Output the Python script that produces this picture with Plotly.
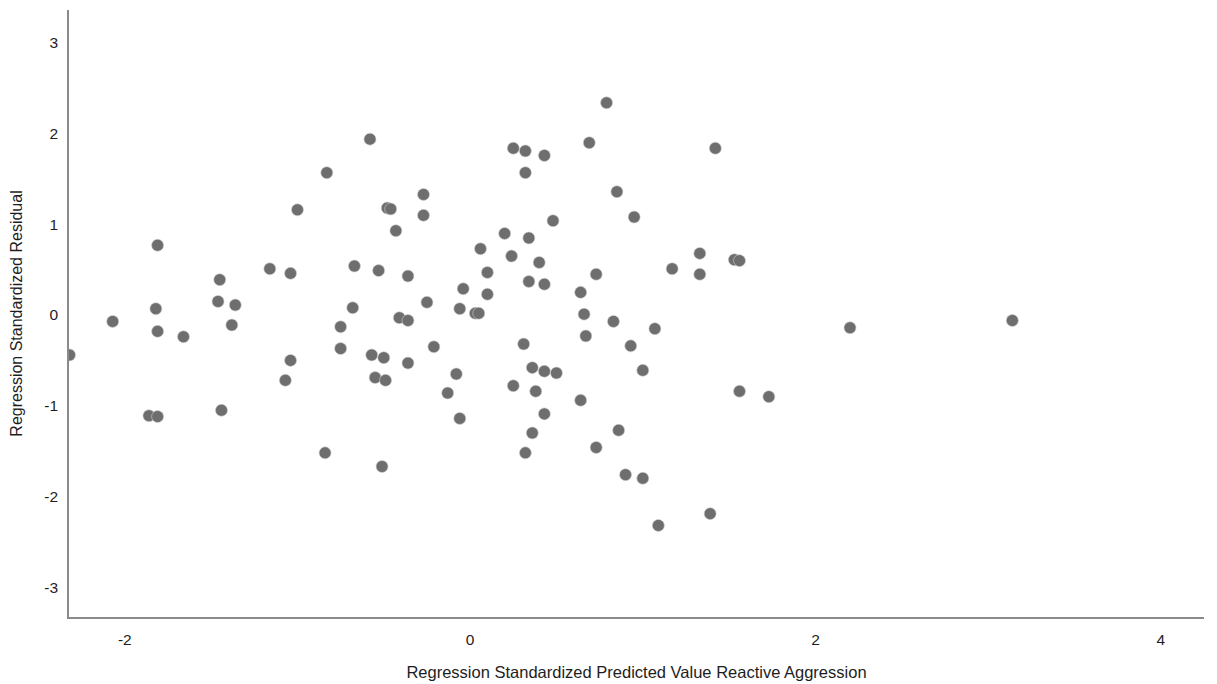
import plotly.graph_objects as go

# Regression standardized predicted value (x) and standardized residual (y)
predicted = [
    -2.32, -2.07, -1.81, -1.82, -1.81, -1.66, -1.86, -1.81, -1.45, -1.46,
    -1.36, -1.38, -1.44, -1.16, -1.04, -1.00, -1.04, -1.07, -0.83, -0.84,
    -0.75, -0.75, -0.68, -0.67, -0.58, -0.57, -0.55, -0.53, -0.50, -0.49,
    -0.51, -0.48, -0.46, -0.43, -0.41, -0.36, -0.36, -0.36, -0.27, -0.27,
    -0.25, -0.21, -0.13, -0.08, -0.06, -0.06, -0.04, 0.03, 0.05, 0.06,
    0.10, 0.10, 0.20, 0.24, 0.25, 0.25, 0.32, 0.31, 0.32, 0.32,
    0.34, 0.34, 0.36, 0.36, 0.38, 0.40, 0.43, 0.43, 0.43, 0.43,
    0.48, 0.50, 0.69, 0.64, 0.64, 0.66, 0.67, 0.73, 0.73, 0.79,
    0.83, 0.85, 0.86, 0.90, 0.93, 0.95, 1.00, 1.00, 1.07, 1.09,
    1.17, 1.33, 1.33, 1.39, 1.42, 1.53, 1.56, 1.56, 1.73, 2.20,
    3.14,
]
residual = [
    -0.44, -0.07, 0.77, 0.07, -0.18, -0.24, -1.11, -1.12, 0.39, 0.15,
    0.11, -0.11, -1.05, 0.51, 0.46, 1.16, -0.50, -0.72, 1.57, -1.52,
    -0.13, -0.37, 0.08, 0.54, 1.94, -0.44, -0.69, 0.49, -0.47, -0.72,
    -1.67, 1.18, 1.17, 0.93, -0.03, -0.06, 0.43, -0.53, 1.33, 1.10,
    0.14, -0.35, -0.86, -0.65, -1.14, 0.07, 0.29, 0.02, 0.02, 0.73,
    0.47, 0.23, 0.90, 0.65, 1.84, -0.78, 1.81, -0.32, 1.57, -1.52,
    0.85, 0.37, -0.58, -1.30, -0.84, 0.58, 1.76, 0.34, -0.62, -1.09,
    1.04, -0.64, 1.90, 0.25, -0.94, 0.01, -0.23, 0.45, -1.46, 2.34,
    -0.07, 1.36, -1.27, -1.76, -0.34, 1.08, -0.61, -1.80, -0.15, -2.32,
    0.51, 0.45, 0.68, -2.19, 1.84, 0.61, 0.60, -0.84, -0.90, -0.14,
    -0.06,
]

x_ticks = [-2, 0, 2, 4]
y_ticks = [-3, -2, -1, 0, 1, 2, 3]

FONT = "Liberation Sans, Arial, sans-serif"
TEXT = "#1e1e1e"

fig = go.Figure(
    go.Scatter(
        x=predicted,
        y=residual,
        mode="markers",
        marker=dict(size=12, color="#6e6e6e", line=dict(width=0.6, color="#cfcfcf")),
        hoverinfo="x+y",
    )
)

# page body has an 8px default margin, so the figure is 8px smaller
fig.update_layout(
    width=1209,
    height=676,
    margin=dict(l=61, r=13, t=2, b=67),
    paper_bgcolor="white",
    plot_bgcolor="white",
    showlegend=False,
    font=dict(family=FONT, size=15, color=TEXT),
)

fig.update_xaxes(
    range=[-2.323, 4.25],
    tickvals=x_ticks,
    ticktext=[str(v) for v in x_ticks],
    showgrid=False,
    zeroline=False,
    showline=True,
    linecolor="#8a8a8a",
    linewidth=1.5,
    ticks="outside",
    ticklen=8,
    tickcolor="rgba(0,0,0,0)",
    tickfont=dict(size=15.5, color=TEXT),
    title=dict(
        text="Regression Standardized Predicted Value Reactive Aggression",
        font=dict(size=16.5, color=TEXT),
        standoff=19,
    ),
    automargin=False,
)

fig.update_yaxes(
    range=[-3.33, 3.364],
    tickvals=y_ticks,
    ticktext=[str(v) for v in y_ticks],
    showgrid=False,
    zeroline=False,
    showline=True,
    linecolor="#8a8a8a",
    linewidth=1.5,
    ticks="outside",
    ticklen=6,
    tickcolor="rgba(0,0,0,0)",
    tickfont=dict(size=15.5, color=TEXT),
    title=dict(
        text="Regression Standardized Residual",
        font=dict(size=16, color=TEXT),
        standoff=20,
    ),
    automargin=False,
)

fig.write_html("out.html")
